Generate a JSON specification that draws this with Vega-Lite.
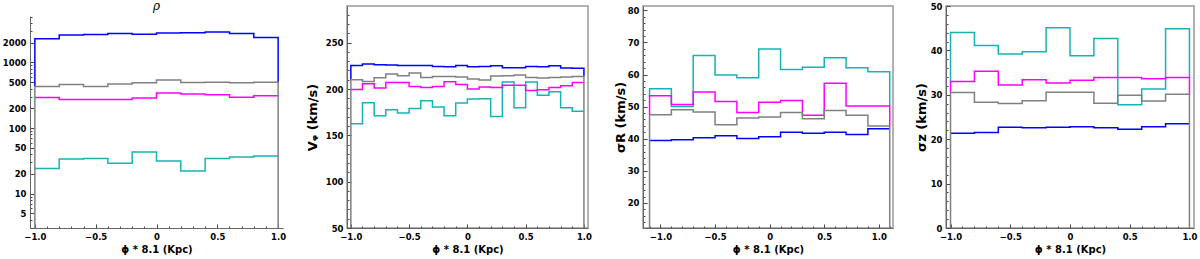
{
"$schema": "https://vega.github.io/schema/vega-lite/v6.json",
"padding": {"left": 2, "top": 0, "right": 0, "bottom": 0},
"spacing": 20,
"bounds": "full",
"background": "white",
"datasets": {
"rho": [
{"s":"A","i":0,"x":-1.0,"v":431},{"s":"A","i":1,"x":-1.0,"v":2291},{"s":"A","i":2,"x":-0.8,"v":2609},{"s":"A","i":3,"x":-0.6,"v":2667},{"s":"A","i":4,"x":-0.4,"v":2766},{"s":"A","i":5,"x":-0.2,"v":2700},{"s":"A","i":6,"x":0.0,"v":2798},{"s":"A","i":7,"x":0.2,"v":2831},{"s":"A","i":8,"x":0.4,"v":2897},{"s":"A","i":9,"x":0.6,"v":2766},{"s":"A","i":10,"x":0.8,"v":2404},{"s":"A","i":11,"x":1.0,"v":501},
{"s":"B","i":1,"x":-1.0,"v":24.3},{"s":"B","i":2,"x":-0.8,"v":33.7},{"s":"B","i":3,"x":-0.6,"v":34.5},{"s":"B","i":4,"x":-0.4,"v":29.0},{"s":"B","i":5,"x":-0.2,"v":43.1},{"s":"B","i":6,"x":0.0,"v":31.4},{"s":"B","i":7,"x":0.2,"v":22.1},{"s":"B","i":8,"x":0.4,"v":34.5},{"s":"B","i":9,"x":0.6,"v":36.1},{"s":"B","i":10,"x":0.8,"v":37.5},{"s":"B","i":11,"x":1.0,"v":37.5},
{"s":"C","i":1,"x":-1.0,"v":293},{"s":"C","i":2,"x":-0.8,"v":273},{"s":"C","i":3,"x":-0.6,"v":273},{"s":"C","i":4,"x":-0.4,"v":273},{"s":"C","i":5,"x":-0.2,"v":286},{"s":"C","i":6,"x":0.0,"v":341},{"s":"C","i":7,"x":0.2,"v":329},{"s":"C","i":8,"x":0.4,"v":322},{"s":"C","i":9,"x":0.6,"v":296},{"s":"C","i":10,"x":0.8,"v":311},{"s":"C","i":11,"x":1.0,"v":311},
{"s":"D","i":0,"x":-1.0,"v":3},{"s":"D","i":1,"x":-1.0,"v":431},{"s":"D","i":2,"x":-0.8,"v":462},{"s":"D","i":3,"x":-0.6,"v":431},{"s":"D","i":4,"x":-0.4,"v":468},{"s":"D","i":5,"x":-0.2,"v":490},{"s":"D","i":6,"x":0.0,"v":538},{"s":"D","i":7,"x":0.2,"v":496},{"s":"D","i":8,"x":0.4,"v":501},{"s":"D","i":9,"x":0.6,"v":490},{"s":"D","i":10,"x":0.8,"v":501},{"s":"D","i":11,"x":1.0,"v":3}
],
"vphi": [
{"s":"A","i":0,"x":-1.0,"v":210.0},{"s":"A","i":1,"x":-1.0,"v":225.5},{"s":"A","i":2,"x":-0.9,"v":226.9},{"s":"A","i":3,"x":-0.8,"v":226.2},{"s":"A","i":4,"x":-0.7,"v":225.9},{"s":"A","i":5,"x":-0.6,"v":225.5},{"s":"A","i":6,"x":-0.5,"v":225.5},{"s":"A","i":7,"x":-0.4,"v":225.5},{"s":"A","i":8,"x":-0.3,"v":224.4},{"s":"A","i":9,"x":-0.2,"v":224.1},{"s":"A","i":10,"x":-0.1,"v":225.5},{"s":"A","i":11,"x":0.0,"v":224.1},{"s":"A","i":12,"x":0.1,"v":224.4},{"s":"A","i":13,"x":0.2,"v":225.1},{"s":"A","i":14,"x":0.3,"v":223.0},{"s":"A","i":15,"x":0.4,"v":223.0},{"s":"A","i":16,"x":0.5,"v":224.4},{"s":"A","i":17,"x":0.6,"v":224.1},{"s":"A","i":18,"x":0.7,"v":225.1},{"s":"A","i":19,"x":0.8,"v":222.6},{"s":"A","i":20,"x":0.9,"v":222.3},{"s":"A","i":21,"x":1.0,"v":213.6},
{"s":"B","i":1,"x":-1.0,"v":162.4},{"s":"B","i":2,"x":-0.9,"v":185.1},{"s":"B","i":3,"x":-0.8,"v":171.1},{"s":"B","i":4,"x":-0.7,"v":177.6},{"s":"B","i":5,"x":-0.6,"v":174.0},{"s":"B","i":6,"x":-0.5,"v":179.0},{"s":"B","i":7,"x":-0.4,"v":187.3},{"s":"B","i":8,"x":-0.3,"v":180.5},{"s":"B","i":9,"x":-0.2,"v":171.1},{"s":"B","i":10,"x":-0.1,"v":184.8},{"s":"B","i":11,"x":0.0,"v":189.1},{"s":"B","i":12,"x":0.1,"v":189.5},{"s":"B","i":13,"x":0.2,"v":170.4},{"s":"B","i":14,"x":0.3,"v":207.5},{"s":"B","i":15,"x":0.4,"v":179.7},{"s":"B","i":16,"x":0.5,"v":207.5},{"s":"B","i":17,"x":0.6,"v":193.4},{"s":"B","i":18,"x":0.7,"v":197.0},{"s":"B","i":19,"x":0.8,"v":179.7},{"s":"B","i":20,"x":0.9,"v":176.1},{"s":"B","i":21,"x":1.0,"v":176.1},
{"s":"C","i":1,"x":-1.0,"v":199.5},{"s":"C","i":2,"x":-0.9,"v":205.7},{"s":"C","i":3,"x":-0.8,"v":201.0},{"s":"C","i":4,"x":-0.7,"v":207.1},{"s":"C","i":5,"x":-0.6,"v":207.1},{"s":"C","i":6,"x":-0.5,"v":202.8},{"s":"C","i":7,"x":-0.4,"v":201.7},{"s":"C","i":8,"x":-0.3,"v":202.8},{"s":"C","i":9,"x":-0.2,"v":207.8},{"s":"C","i":10,"x":-0.1,"v":205.0},{"s":"C","i":11,"x":0.0,"v":199.9},{"s":"C","i":12,"x":0.1,"v":202.1},{"s":"C","i":13,"x":0.2,"v":201.7},{"s":"C","i":14,"x":0.3,"v":204.2},{"s":"C","i":15,"x":0.4,"v":204.2},{"s":"C","i":16,"x":0.5,"v":198.5},{"s":"C","i":17,"x":0.6,"v":199.2},{"s":"C","i":18,"x":0.7,"v":201.7},{"s":"C","i":19,"x":0.8,"v":203.5},{"s":"C","i":20,"x":0.9,"v":207.1},{"s":"C","i":21,"x":1.0,"v":207.1},
{"s":"D","i":0,"x":-1.0,"v":50},{"s":"D","i":1,"x":-1.0,"v":210.0},{"s":"D","i":2,"x":-0.9,"v":208.2},{"s":"D","i":3,"x":-0.8,"v":212.2},{"s":"D","i":4,"x":-0.7,"v":216.1},{"s":"D","i":5,"x":-0.6,"v":214.3},{"s":"D","i":6,"x":-0.5,"v":217.2},{"s":"D","i":7,"x":-0.4,"v":212.5},{"s":"D","i":8,"x":-0.3,"v":213.6},{"s":"D","i":9,"x":-0.2,"v":213.6},{"s":"D","i":10,"x":-0.1,"v":212.9},{"s":"D","i":11,"x":0.0,"v":210.7},{"s":"D","i":12,"x":0.1,"v":209.6},{"s":"D","i":13,"x":0.2,"v":214.0},{"s":"D","i":14,"x":0.3,"v":214.3},{"s":"D","i":15,"x":0.4,"v":215.0},{"s":"D","i":16,"x":0.5,"v":212.5},{"s":"D","i":17,"x":0.6,"v":211.8},{"s":"D","i":18,"x":0.7,"v":212.5},{"s":"D","i":19,"x":0.8,"v":212.9},{"s":"D","i":20,"x":0.9,"v":213.6},{"s":"D","i":21,"x":1.0,"v":50}
],
"sigR": [
{"s":"A","i":1,"x":-1.1,"v":39.45},{"s":"A","i":2,"x":-0.9,"v":39.65},{"s":"A","i":3,"x":-0.7,"v":40.3},{"s":"A","i":4,"x":-0.5,"v":40.9},{"s":"A","i":5,"x":-0.3,"v":40.1},{"s":"A","i":6,"x":-0.1,"v":40.6},{"s":"A","i":7,"x":0.1,"v":42.05},{"s":"A","i":8,"x":0.3,"v":41.7},{"s":"A","i":9,"x":0.5,"v":42.05},{"s":"A","i":10,"x":0.7,"v":41.3},{"s":"A","i":11,"x":0.9,"v":43.1},{"s":"A","i":12,"x":1.1,"v":43.1},
{"s":"B","i":0,"x":-1.1,"v":53.4},{"s":"B","i":1,"x":-1.1,"v":55.56},{"s":"B","i":2,"x":-0.9,"v":50.05},{"s":"B","i":3,"x":-0.7,"v":65.96},{"s":"B","i":4,"x":-0.5,"v":59.83},{"s":"B","i":5,"x":-0.3,"v":59.0},{"s":"B","i":6,"x":-0.1,"v":67.94},{"s":"B","i":7,"x":0.1,"v":61.6},{"s":"B","i":8,"x":0.3,"v":62.3},{"s":"B","i":9,"x":0.5,"v":65.2},{"s":"B","i":10,"x":0.7,"v":62.1},{"s":"B","i":11,"x":0.9,"v":60.9},{"s":"B","i":12,"x":1.1,"v":50.2},
{"s":"C","i":0,"x":-1.1,"v":47.45},{"s":"C","i":1,"x":-1.1,"v":53.4},{"s":"C","i":2,"x":-0.9,"v":50.7},{"s":"C","i":3,"x":-0.7,"v":54.6},{"s":"C","i":4,"x":-0.5,"v":51.6},{"s":"C","i":5,"x":-0.3,"v":48.2},{"s":"C","i":6,"x":-0.1,"v":51.4},{"s":"C","i":7,"x":0.1,"v":51.9},{"s":"C","i":8,"x":0.3,"v":47.35},{"s":"C","i":9,"x":0.5,"v":57.3},{"s":"C","i":10,"x":0.7,"v":50.2},{"s":"C","i":11,"x":0.9,"v":50.2},{"s":"C","i":12,"x":1.1,"v":44.0},
{"s":"D","i":0,"x":-1.1,"v":12.2},{"s":"D","i":1,"x":-1.1,"v":47.45},{"s":"D","i":2,"x":-0.9,"v":49.0},{"s":"D","i":3,"x":-0.7,"v":48.3},{"s":"D","i":4,"x":-0.5,"v":44.4},{"s":"D","i":5,"x":-0.3,"v":46.5},{"s":"D","i":6,"x":-0.1,"v":46.8},{"s":"D","i":7,"x":0.1,"v":48.2},{"s":"D","i":8,"x":0.3,"v":46.2},{"s":"D","i":9,"x":0.5,"v":48.8},{"s":"D","i":10,"x":0.7,"v":47.35},{"s":"D","i":11,"x":0.9,"v":44.0},{"s":"D","i":12,"x":1.1,"v":12.2}
],
"sigz": [
{"s":"A","i":1,"x":-1.0,"v":21.35},{"s":"A","i":2,"x":-0.8,"v":21.5},{"s":"A","i":3,"x":-0.6,"v":22.7},{"s":"A","i":4,"x":-0.4,"v":22.6},{"s":"A","i":5,"x":-0.2,"v":22.7},{"s":"A","i":6,"x":0.0,"v":22.8},{"s":"A","i":7,"x":0.2,"v":22.6},{"s":"A","i":8,"x":0.4,"v":22.25},{"s":"A","i":9,"x":0.6,"v":22.8},{"s":"A","i":10,"x":0.8,"v":23.5},{"s":"A","i":11,"x":1.0,"v":23.5},
{"s":"B","i":0,"x":-1.0,"v":33.0},{"s":"B","i":1,"x":-1.0,"v":44.04},{"s":"B","i":2,"x":-0.8,"v":41.1},{"s":"B","i":3,"x":-0.6,"v":39.2},{"s":"B","i":4,"x":-0.4,"v":39.7},{"s":"B","i":5,"x":-0.2,"v":45.1},{"s":"B","i":6,"x":0.0,"v":38.8},{"s":"B","i":7,"x":0.2,"v":42.7},{"s":"B","i":8,"x":0.4,"v":27.75},{"s":"B","i":9,"x":0.6,"v":31.3},{"s":"B","i":10,"x":0.8,"v":44.9},{"s":"B","i":11,"x":1.0,"v":33.9},
{"s":"C","i":0,"x":-1.0,"v":30.5},{"s":"C","i":1,"x":-1.0,"v":33.0},{"s":"C","i":2,"x":-0.8,"v":35.3},{"s":"C","i":3,"x":-0.6,"v":32.2},{"s":"C","i":4,"x":-0.4,"v":33.4},{"s":"C","i":5,"x":-0.2,"v":32.65},{"s":"C","i":6,"x":0.0,"v":33.3},{"s":"C","i":7,"x":0.2,"v":33.9},{"s":"C","i":8,"x":0.4,"v":33.9},{"s":"C","i":9,"x":0.6,"v":33.6},{"s":"C","i":10,"x":0.8,"v":33.9},{"s":"C","i":11,"x":1.0,"v":30.1},
{"s":"D","i":0,"x":-1.0,"v":0},{"s":"D","i":1,"x":-1.0,"v":30.5},{"s":"D","i":2,"x":-0.8,"v":28.35},{"s":"D","i":3,"x":-0.6,"v":28.05},{"s":"D","i":4,"x":-0.4,"v":28.65},{"s":"D","i":5,"x":-0.2,"v":30.6},{"s":"D","i":6,"x":0.0,"v":30.6},{"s":"D","i":7,"x":0.2,"v":28.1},{"s":"D","i":8,"x":0.4,"v":29.9},{"s":"D","i":9,"x":0.6,"v":28.6},{"s":"D","i":10,"x":0.8,"v":30.1},{"s":"D","i":11,"x":1.0,"v":0}
]
},
"hconcat": [
{
"title": {"text": "ρ", "font": "DejaVu Serif", "fontStyle": "italic", "fontWeight": "normal", "fontSize": 12, "offset": -7, "anchor": "middle", "color": "#000"},
"width": 253, "height": 222,
"view": {"stroke": null},
"data": {"name": "rho"},
"encoding": {
"x": {"field": "x", "type": "quantitative", "scale": {"domain": [-1.04, 1.04], "nice": false, "zero": false},
 "axis": {"title": "ϕ * 8.1 (Kpc)", "values": [-1,-0.9,-0.8,-0.7,-0.6,-0.5,-0.4,-0.3,-0.2,-0.1,0,0.1,0.2,0.3,0.4,0.5,0.6,0.7,0.8,0.9,1],
  "labelExpr": "abs(datum.value*2 - round(datum.value*2)) < 0.000001 ? (datum.value == 0 ? '0' : format(datum.value, '.1f')) : ''",
  "tickSize": {"condition": {"test": "abs(datum.value*2 - round(datum.value*2)) < 0.000001", "value": -4}, "value": -2}}},
"y": {"field": "v", "type": "quantitative", "scale": {"type": "log", "domain": [3, 5100], "nice": false, "range": [222, 10]},
 "axis": {"title": null, "values": [3,4,5,6,7,8,9,10,20,30,40,50,60,70,80,90,100,200,300,400,500,600,700,800,900,1000,2000,3000,4000,5000],
  "labelExpr": "indexof([5,10,20,50,100,200,500,1000,2000], datum.value) >= 0 ? format(datum.value, 'd') : ''",
  "tickSize": {"condition": {"test": "indexof([5,10,20,50,100,200,500,1000,2000], datum.value) >= 0", "value": -4}, "value": -2}}},
"color": {"field": "s", "type": "nominal", "scale": {"domain": ["A","B","C","D"], "range": ["#0000ff","#17b3b3","#ff00ff","#808080"]}, "legend": null},
"order": {"field": "i", "type": "quantitative"}
},
"layer": [
{"data": {"values": [{"frame": "box"}]}, "mark": {"type": "rect", "strokeWidth": 1.5},
 "encoding": {"x": {"datum": -1.04}, "x2": {"datum": 1.04}, "y": {"datum": 3}, "y2": {"datum": 5100}, "color": {"value": "transparent"}, "stroke": {"value": "#999999"}}},
{"transform": [{"filter": "datum.s == 'A'"}], "mark": {"type": "line", "interpolate": "step-after", "strokeWidth": 1.5, "clip": true}},
{"transform": [{"filter": "datum.s == 'B'"}], "mark": {"type": "line", "interpolate": "step-after", "strokeWidth": 1.5, "clip": true}},
{"transform": [{"filter": "datum.s == 'C'"}], "mark": {"type": "line", "interpolate": "step-after", "strokeWidth": 1.5, "clip": true}},
{"transform": [{"filter": "datum.s == 'D'"}], "mark": {"type": "line", "interpolate": "step-after", "strokeWidth": 1.5, "clip": true}}
]
},
{
"width": 241, "height": 222,
"data": {"name": "vphi"},
"encoding": {
"x": {"field": "x", "type": "quantitative", "scale": {"domain": [-1.033, 1.035], "nice": false, "zero": false},
 "axis": {"title": "ϕ * 8.1 (Kpc)", "values": [-1,-0.9,-0.8,-0.7,-0.6,-0.5,-0.4,-0.3,-0.2,-0.1,0,0.1,0.2,0.3,0.4,0.5,0.6,0.7,0.8,0.9,1],
  "labelExpr": "abs(datum.value*2 - round(datum.value*2)) < 0.000001 ? (datum.value == 0 ? '0' : format(datum.value, '.1f')) : ''",
  "tickSize": {"condition": {"test": "abs(datum.value*2 - round(datum.value*2)) < 0.000001", "value": -4}, "value": -2}}},
"y": {"field": "v", "type": "quantitative", "scale": {"domain": [50, 289.6], "nice": false, "zero": false},
 "axis": {"title": "Vᵩ (km/s)", "titlePadding": 5.5, "values": [50,60,70,80,90,100,110,120,130,140,150,160,170,180,190,200,210,220,230,240,250,260,270,280],
  "labelExpr": "datum.value % 50 == 0 ? format(datum.value, 'd') : ''",
  "tickSize": {"condition": {"test": "datum.value % 50 == 0", "value": -4}, "value": -2}}},
"color": {"field": "s", "type": "nominal", "scale": {"domain": ["A","B","C","D"], "range": ["#0000ff","#17b3b3","#ff00ff","#808080"]}, "legend": null},
"order": {"field": "i", "type": "quantitative"}
},
"layer": [
{"transform": [{"filter": "datum.s == 'A'"}], "mark": {"type": "line", "interpolate": "step-after", "strokeWidth": 1.5, "clip": true}},
{"transform": [{"filter": "datum.s == 'B'"}], "mark": {"type": "line", "interpolate": "step-after", "strokeWidth": 1.5, "clip": true}},
{"transform": [{"filter": "datum.s == 'C'"}], "mark": {"type": "line", "interpolate": "step-after", "strokeWidth": 1.5, "clip": true}},
{"transform": [{"filter": "datum.s == 'D'"}], "mark": {"type": "line", "interpolate": "step-after", "strokeWidth": 1.5, "clip": true}}
]
},
{
"width": 250, "height": 222,
"data": {"name": "sigR"},
"encoding": {
"x": {"field": "x", "type": "quantitative", "scale": {"domain": [-1.16, 1.13], "nice": false, "zero": false},
 "axis": {"title": "ϕ * 8.1 (Kpc)", "values": [-1.1,-1,-0.9,-0.8,-0.7,-0.6,-0.5,-0.4,-0.3,-0.2,-0.1,0,0.1,0.2,0.3,0.4,0.5,0.6,0.7,0.8,0.9,1,1.1],
  "labelExpr": "abs(datum.value*2 - round(datum.value*2)) < 0.000001 ? (datum.value == 0 ? '0' : format(datum.value, '.1f')) : ''",
  "tickSize": {"condition": {"test": "abs(datum.value*2 - round(datum.value*2)) < 0.000001", "value": -4}, "value": -2}}},
"y": {"field": "v", "type": "quantitative", "scale": {"domain": [12.2, 81.35], "nice": false, "zero": false},
 "axis": {"title": "σR (km/s)", "titlePadding": 0, "values": [14,16,18,20,22,24,26,28,30,32,34,36,38,40,42,44,46,48,50,52,54,56,58,60,62,64,66,68,70,72,74,76,78,80],
  "labelExpr": "datum.value % 10 == 0 ? format(datum.value, 'd') : ''",
  "tickSize": {"condition": {"test": "datum.value % 10 == 0", "value": -4}, "value": -2}}},
"color": {"field": "s", "type": "nominal", "scale": {"domain": ["A","B","C","D"], "range": ["#0000ff","#17b3b3","#ff00ff","#808080"]}, "legend": null},
"order": {"field": "i", "type": "quantitative"}
},
"layer": [
{"transform": [{"filter": "datum.s == 'A'"}], "mark": {"type": "line", "interpolate": "step-after", "strokeWidth": 1.5, "clip": true}},
{"transform": [{"filter": "datum.s == 'B'"}], "mark": {"type": "line", "interpolate": "step-after", "strokeWidth": 1.5, "clip": true}},
{"transform": [{"filter": "datum.s == 'C'"}], "mark": {"type": "line", "interpolate": "step-after", "strokeWidth": 1.5, "clip": true}},
{"transform": [{"filter": "datum.s == 'D'"}], "mark": {"type": "line", "interpolate": "step-after", "strokeWidth": 1.5, "clip": true}}
]
},
{
"width": 248, "height": 222,
"data": {"name": "sigz"},
"encoding": {
"x": {"field": "x", "type": "quantitative", "scale": {"domain": [-1.038, 1.038], "nice": false, "zero": false},
 "axis": {"title": "ϕ * 8.1 (Kpc)", "values": [-1,-0.9,-0.8,-0.7,-0.6,-0.5,-0.4,-0.3,-0.2,-0.1,0,0.1,0.2,0.3,0.4,0.5,0.6,0.7,0.8,0.9,1],
  "labelExpr": "abs(datum.value*2 - round(datum.value*2)) < 0.000001 ? (datum.value == 0 ? '0' : format(datum.value, '.1f')) : ''",
  "tickSize": {"condition": {"test": "abs(datum.value*2 - round(datum.value*2)) < 0.000001", "value": -4}, "value": -2}}},
"y": {"field": "v", "type": "quantitative", "scale": {"domain": [0, 50], "nice": false},
 "axis": {"title": "σz (km/s)", "titlePadding": 2, "values": [0,2,4,6,8,10,12,14,16,18,20,22,24,26,28,30,32,34,36,38,40,42,44,46,48,50],
  "labelExpr": "datum.value % 10 == 0 ? format(datum.value, 'd') : ''",
  "tickSize": {"condition": {"test": "datum.value % 10 == 0", "value": -4}, "value": -2}}},
"color": {"field": "s", "type": "nominal", "scale": {"domain": ["A","B","C","D"], "range": ["#0000ff","#17b3b3","#ff00ff","#808080"]}, "legend": null},
"order": {"field": "i", "type": "quantitative"}
},
"layer": [
{"transform": [{"filter": "datum.s == 'A'"}], "mark": {"type": "line", "interpolate": "step-after", "strokeWidth": 1.5, "clip": true}},
{"transform": [{"filter": "datum.s == 'B'"}], "mark": {"type": "line", "interpolate": "step-after", "strokeWidth": 1.5, "clip": true}},
{"transform": [{"filter": "datum.s == 'C'"}], "mark": {"type": "line", "interpolate": "step-after", "strokeWidth": 1.5, "clip": true}},
{"transform": [{"filter": "datum.s == 'D'"}], "mark": {"type": "line", "interpolate": "step-after", "strokeWidth": 1.5, "clip": true}}
]
}
],
"config": {
"font": "DejaVu Sans",
"view": {"stroke": "#999999", "strokeWidth": 1.5},
"axis": {"grid": false, "zindex": 1, "labelFont": "DejaVu Sans", "labelFontWeight": "bold", "labelFontSize": 8.5, "labelColor": "#000",
 "titleFont": "DejaVu Sans", "titleFontWeight": "bold", "titleColor": "#000",
 "domainColor": "#666666", "domainWidth": 1, "tickColor": "#444444", "tickWidth": 1,
 "labelPadding": 8, "labelFlush": false, "labelOverlap": false, "labelBound": false},
"axisX": {"titleFontSize": 10, "titlePadding": 2},
"axisY": {"titleFontSize": 13}
}
}
